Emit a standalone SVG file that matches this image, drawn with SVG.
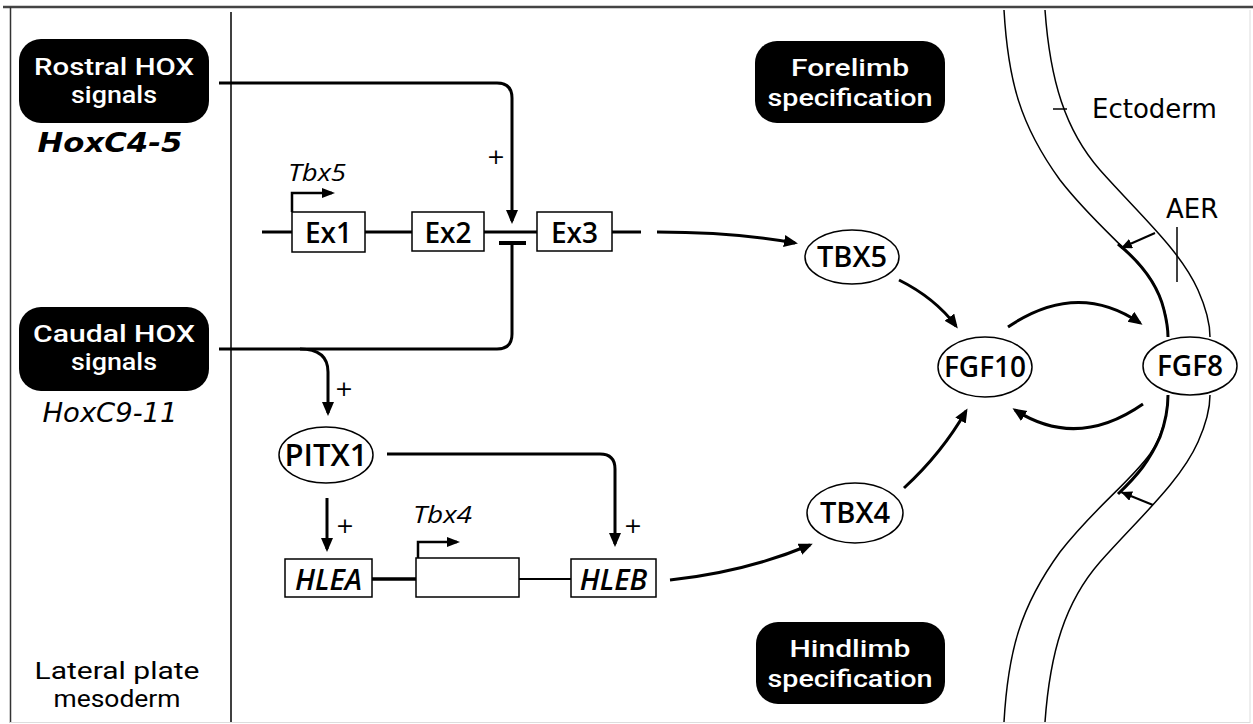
<svg xmlns="http://www.w3.org/2000/svg" width="1253" height="724" viewBox="0 0 1253 724">
<defs>
<style>
.bx{fill:#000}
.wl{fill:#fff;font-family:Roboto,"Open Sans",sans-serif;font-weight:500;font-size:23px;text-anchor:middle}
.ln{fill:none;stroke:#000;stroke-width:3}
.thin{fill:none;stroke:#000;stroke-width:1.5}
.box{fill:#fff;stroke:#000;stroke-width:1.5}
.ell{fill:#fff;stroke:#000;stroke-width:1.5}
.lbl{fill:#000;font-family:"Open Sans",sans-serif;font-weight:600;text-anchor:middle}
.it{font-style:italic}
.gene{fill:#000;font-family:"Open Sans",sans-serif;font-style:italic;font-weight:400;font-size:24px}
.reg{fill:#000;font-family:Roboto,"Open Sans",sans-serif;font-size:23px;text-anchor:middle}
.dj{fill:#000;font-family:"DejaVu Sans",sans-serif;font-size:26px}
.hox{fill:#000;font-family:"DejaVu Sans",sans-serif;font-style:italic;font-size:26px;text-anchor:middle}
.pl{fill:#000;font-family:"DejaVu Sans",sans-serif;font-size:22px;text-anchor:middle}
</style>
<marker id="ah" markerUnits="userSpaceOnUse" markerWidth="16" markerHeight="14" refX="11" refY="6" orient="auto"><path d="M0,0 L14,6 L0,12 z" fill="#000"/></marker>
<marker id="ahs" markerUnits="userSpaceOnUse" markerWidth="14" markerHeight="12" refX="10" refY="5" orient="auto"><path d="M0,0 L13,5 L0,10 z" fill="#000"/></marker>
<marker id="ahx" markerUnits="userSpaceOnUse" markerWidth="12" markerHeight="10" refX="11" refY="5" orient="auto"><path d="M0,0 L11,5 L0,10 z" fill="#000"/></marker>
</defs>
<rect x="0" y="0" width="1253" height="724" fill="#fff"/>
<g id="frame">
<line x1="3" y1="7" x2="1253" y2="7" stroke="#444" stroke-width="2.5"/>
<line x1="10.5" y1="7" x2="10.5" y2="723" stroke="#333" stroke-width="1.5"/>
<line x1="1250" y1="10" x2="1250" y2="723" stroke="#ddd" stroke-width="1"/>
<line x1="10" y1="722.5" x2="1250" y2="722.5" stroke="#ddd" stroke-width="1"/>
<line x1="231" y1="12" x2="231" y2="722" stroke="#000" stroke-width="1.5"/>
</g>
<g id="tissue">
<path class="thin" d="M1004,10 C1008,80 1020,125 1060,180 C1095,225 1130,250 1150,278 C1162,296 1168,318 1168,337"/>
<path class="thin" d="M1045,10 C1050,80 1065,130 1100,170 C1140,215 1180,250 1198,290 C1206,308 1210,322 1210,337"/>
<path class="thin" d="M1168,395 C1168,414 1162,436 1150,454 C1130,482 1095,507 1060,552 C1020,607 1008,652 1004,722"/>
<path class="thin" d="M1210,395 C1210,410 1206,424 1198,442 C1180,482 1140,517 1100,562 C1065,602 1050,652 1045,722"/>
<path d="M1118,244 C1140,262 1158,285 1164,310 C1167,322 1168,330 1168,337" fill="none" stroke="#000" stroke-width="3"/>
<path d="M1168,395 C1168,402 1167,418 1160,437 C1150,460 1138,475 1118,494" fill="none" stroke="#000" stroke-width="3"/>
<line x1="1155" y1="233" x2="1121" y2="248" stroke="#000" stroke-width="2" marker-end="url(#ahx)"/>
<line x1="1153" y1="505" x2="1121" y2="492" stroke="#000" stroke-width="2" marker-end="url(#ahx)"/>
<line x1="1053" y1="109" x2="1067" y2="109" stroke="#000" stroke-width="1.5"/>
<line x1="1177" y1="227" x2="1177" y2="282" stroke="#000" stroke-width="1.5"/>
<text class="dj" x="1092" y="118">Ectoderm</text>
<text class="dj" x="1166" y="218">AER</text>
</g>
<g id="connectors">
<path class="ln" d="M219,83 H497 Q512,83 512,98 V221" marker-end="url(#ah)"/>
<path class="ln" d="M219,349 H497 Q512,349 512,334 V243"/>
<line x1="499" y1="243" x2="526" y2="243" stroke="#000" stroke-width="4"/>
<path class="ln" d="M300,349 Q328,349 328,372 V413" marker-end="url(#ah)"/>
<path class="ln" d="M327,498 V549" marker-end="url(#ah)"/>
<path class="ln" d="M387,454 H600 Q615,454 615,469 V544" marker-end="url(#ah)"/>
<path class="ln" d="M657,232 Q735,232 795,243" marker-end="url(#ah)"/>
<path class="ln" d="M670,580 Q745,572 810,545" marker-end="url(#ah)"/>
<path class="ln" d="M899,280 Q935,298 956,326" marker-end="url(#ah)"/>
<path class="ln" d="M904,488 Q942,453 966,411" marker-end="url(#ah)"/>
<path class="ln" d="M1008,327 Q1077,280 1140,323" marker-end="url(#ah)"/>
<path class="ln" d="M1143,404 Q1077,450 1015,410" marker-end="url(#ah)"/>
<path d="M292,212 V193 H332" fill="none" stroke="#000" stroke-width="2.5" marker-end="url(#ahs)"/>
<path d="M418,558 V542 H457" fill="none" stroke="#000" stroke-width="2.5" marker-end="url(#ahs)"/>
<text class="pl" x="496" y="164">+</text>
<text class="pl" x="344" y="396">+</text>
<text class="pl" x="345" y="533">+</text>
<text class="pl" x="633" y="533">+</text>
</g>
<g id="tbx5-gene">
<path d="M262,232 H292 M365,232 H412 M484,232 H537 M612,232 H641" fill="none" stroke="#000" stroke-width="3"/>
<text class="gene" x="288" y="181" textLength="58" lengthAdjust="spacingAndGlyphs">Tbx5</text>
</g>
<g id="ex1"><rect class="box" x="292" y="212" width="73" height="40"/><text class="lbl" x="328.5" y="243" font-size="28">Ex1</text></g>
<g id="ex2"><rect class="box" x="412" y="212" width="72" height="39"/><text class="lbl" x="448" y="243" font-size="28">Ex2</text></g>
<g id="ex3"><rect class="box" x="537" y="212" width="75" height="39"/><text class="lbl" x="574.5" y="243" font-size="28">Ex3</text></g>
<g id="tbx4-gene">
<line x1="372" y1="579" x2="416" y2="579" stroke="#000" stroke-width="3.5"/>
<line x1="519" y1="579" x2="571" y2="579" stroke="#000" stroke-width="2"/>
<rect class="box" x="416" y="558" width="103" height="39"/>
<text class="gene" x="413" y="523" textLength="59" lengthAdjust="spacingAndGlyphs">Tbx4</text>
</g>
<g id="hlea"><rect class="box" x="285" y="559" width="87" height="38"/><text class="lbl it" x="328.5" y="590" font-size="29">HLEA</text></g>
<g id="hleb"><rect class="box" x="571" y="559" width="85" height="38"/><text class="lbl it" x="613.5" y="590" font-size="29">HLEB</text></g>
<g id="rostral">
<rect class="bx" x="19" y="39" width="190" height="84" rx="22"/>
<text class="wl" x="114" y="74.5" textLength="160" lengthAdjust="spacingAndGlyphs">Rostral HOX</text>
<text class="wl" x="114" y="102.5" textLength="86" lengthAdjust="spacingAndGlyphs">signals</text>
<text class="hox" x="110" y="152" font-weight="700" textLength="145" lengthAdjust="spacingAndGlyphs">HoxC4-5</text>
</g>
<g id="caudal">
<rect class="bx" x="19" y="307" width="190" height="84" rx="22"/>
<text class="wl" x="114" y="342" textLength="162" lengthAdjust="spacingAndGlyphs">Caudal HOX</text>
<text class="wl" x="114" y="370" textLength="86" lengthAdjust="spacingAndGlyphs">signals</text>
<text class="hox" x="110" y="422" textLength="135" lengthAdjust="spacingAndGlyphs">HoxC9-11</text>
</g>
<g id="lpm">
<text class="reg" x="117" y="678.5" textLength="165" lengthAdjust="spacingAndGlyphs">Lateral plate</text>
<text class="reg" x="117" y="706.5" textLength="127" lengthAdjust="spacingAndGlyphs">mesoderm</text>
</g>
<g id="forelimb">
<rect class="bx" x="755" y="41" width="190" height="82" rx="22"/>
<text class="wl" x="850" y="76" textLength="118" lengthAdjust="spacingAndGlyphs">Forelimb</text>
<text class="wl" x="850" y="106" textLength="165" lengthAdjust="spacingAndGlyphs">specification</text>
</g>
<g id="hindlimb">
<rect class="bx" x="756" y="622" width="189" height="82" rx="22"/>
<text class="wl" x="850" y="657" textLength="121" lengthAdjust="spacingAndGlyphs">Hindlimb</text>
<text class="wl" x="850" y="687" textLength="165" lengthAdjust="spacingAndGlyphs">specification</text>
</g>
<g id="pitx1"><ellipse class="ell" cx="326" cy="455" rx="47" ry="28"/><text class="lbl" x="326" y="466" font-size="31">PITX1</text></g>
<g id="tbx5"><ellipse class="ell" cx="852" cy="257" rx="47" ry="27"/><text class="lbl" x="852" y="267" font-size="29">TBX5</text></g>
<g id="tbx4"><ellipse class="ell" cx="855" cy="513" rx="48" ry="30"/><text class="lbl" x="855" y="523" font-size="29">TBX4</text></g>
<g id="fgf10"><ellipse class="ell" cx="985" cy="367" rx="47" ry="30"/><text class="lbl" x="985" y="377" font-size="28">FGF10</text></g>
<g id="fgf8"><ellipse class="ell" cx="1190" cy="366" rx="47" ry="29"/><text class="lbl" x="1190" y="376" font-size="28">FGF8</text></g>
</svg>
